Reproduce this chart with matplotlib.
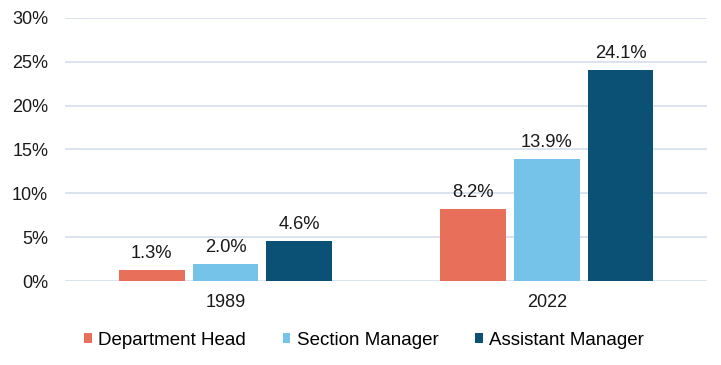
import numpy as np
import matplotlib.pyplot as plt

plt.rcParams['font.family'] = ['Liberation Sans', 'DejaVu Sans']

# Data
# ----
years = ['1989', '2022']
series = ['Department Head', 'Section Manager', 'Assistant Manager']
dept_head = [1.3, 8.2]
section_mgr = [2.0, 13.9]
assistant_mgr = [4.6, 24.1]
colors = ['#E8705A', '#75C3E8', '#0B5075']

values = [dept_head, section_mgr, assistant_mgr]

# Figure setup
# ------------
fig = plt.figure(figsize=(7.21, 3.65), dpi=100)
ax = fig.add_axes([0.090, 0.230, 0.891, 0.721])

x = np.arange(len(years))
width = 0.205
step = 0.23

for i, (name, vals, c) in enumerate(zip(series, values, colors)):
    pos = x + (i - 1) * step
    bars = ax.bar(pos, vals, width, color=c, label=name, zorder=3)
    for b, v in zip(bars, vals):
        ax.text(b.get_x() + b.get_width() / 2, v + 0.9, f'{v:.1f}%',
                ha='center', va='bottom', fontsize=13.2, color='#1a1a1a')

ax.set_xlim(-0.5, 1.5)
ax.set_ylim(0, 30)
ax.set_yticks(np.arange(0, 31, 5))
ax.set_yticklabels([f'{t}%' for t in range(0, 31, 5)])
ax.set_xticks(x)
ax.set_xticklabels(years)
ax.tick_params(axis='both', length=0, labelsize=13, colors='#1a1a1a')
ax.tick_params(axis='y', pad=12)
ax.tick_params(axis='x', pad=9)

ax.grid(axis='y', color='#D5DEEE', linewidth=1.2, zorder=0)
for s in ax.spines.values():
    s.set_visible(False)

fig.legend(loc='center', bbox_to_anchor=(0.505, 0.068), ncol=3, frameon=False,
           fontsize=13.5, handlelength=0.4, handleheight=0.4, handletextpad=0.35,
           columnspacing=1.95)

fig.savefig('out.png', dpi=100)
